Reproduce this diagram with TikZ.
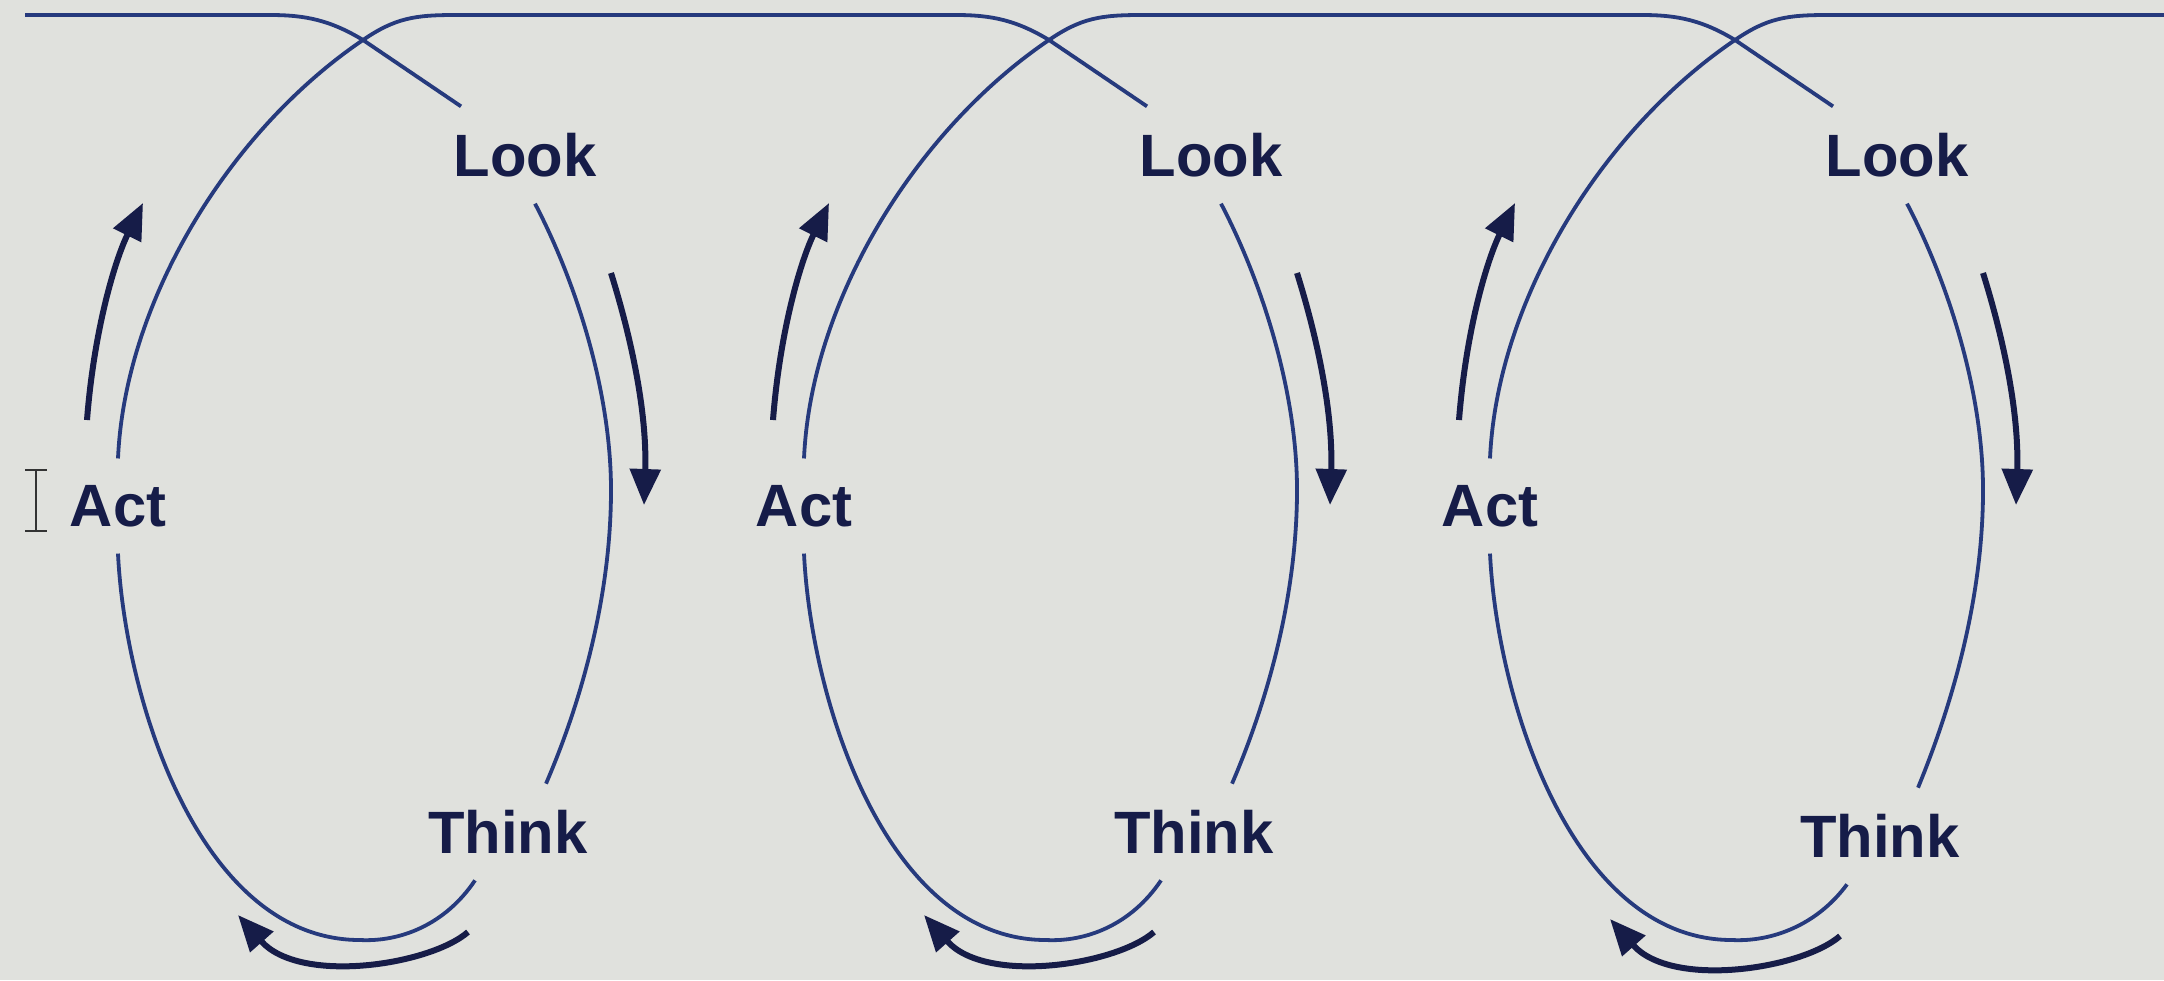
\documentclass[tikz,border=0pt]{standalone}
\usepackage{fontspec}
\setmainfont{Liberation Sans}
\usepackage{tikz}
\usetikzlibrary{arrows.meta}
\definecolor{screen}{RGB}{224,225,221}
\definecolor{ink}{RGB}{22,28,72}
\definecolor{pen}{RGB}{38,58,125}
\tikzstyle{word}=[inner sep=2.6mm,text=ink,font=\fontsize{17}{20}\selectfont\bfseries]
\tikzstyle{loopline}=[draw=pen,line width=0.38mm]
\tikzstyle{flow}=[draw=ink,line width=0.6mm,->]

\begin{document}
\begin{tikzpicture}[>={Triangle[length=3.6mm,width=3mm]},line join=bevel,x=0.1mm,y=-0.1mm]
	  \fill [screen] (0,0) rectangle (2164,980);
	  \useasboundingbox (0,0) rectangle (2164,980);
	  \node (L1) at (525,155) [word] {Look};
	  \node (T1) at (508,832) [word] {Think};
	  \node (A1) at (118,506) [word] {Act};
	  \node (L2) at (1211,155) [word] {Look};
	  \node (T2) at (1194,832) [word] {Think};
	  \node (A2) at (804,506) [word] {Act};
	  \node (L3) at (1897,155) [word] {Look};
	  \node (T3) at (1880,836) [word] {Think};
	  \node (A3) at (1490,506) [word] {Act};
	  \coordinate (S) at (25,15);
	  \coordinate (E) at (2164,15);
	  % spiral
	  \draw [loopline] (S) -- (270,15) .. controls (305,15) and (330,20) .. (363,40) -- ([xshift=-6.4mm]L1.north);
	  \draw [loopline] ([xshift=1mm]L1.south) .. controls (575,280) and (611,390) .. (611,490) .. controls (611,595) and (582,700) .. ([xshift=3.8mm]T1.north);
	  \draw [loopline] ([xshift=-3.3mm]T1.south) .. controls (445,925) and (400,942) .. (360,940) .. controls (200,940) and (125,700) .. (A1.south);
	  \draw [loopline] (A1.north) .. controls (125,300) and (230,130) .. (363,40) .. controls (395,18) and (415,15) .. (455,15) -- (956,15) .. controls (991,15) and (1016,20) .. (1049,40) -- ([xshift=-6.4mm]L2.north);
	  \draw [loopline] ([xshift=1mm]L2.south) .. controls (1261,280) and (1297,390) .. (1297,490) .. controls (1297,595) and (1268,700) .. ([xshift=3.8mm]T2.north);
	  \draw [loopline] ([xshift=-3.3mm]T2.south) .. controls (1131,925) and (1086,942) .. (1046,940) .. controls (886,940) and (811,700) .. (A2.south);
	  \draw [loopline] (A2.north) .. controls (811,300) and (916,130) .. (1049,40) .. controls (1081,18) and (1101,15) .. (1141,15) -- (1642,15) .. controls (1677,15) and (1702,20) .. (1735,40) -- ([xshift=-6.4mm]L3.north);
	  \draw [loopline] ([xshift=1mm]L3.south) .. controls (1947,280) and (1983,390) .. (1983,490) .. controls (1983,595) and (1954,700) .. ([xshift=3.8mm]T3.north);
	  \draw [loopline] ([xshift=-3.3mm]T3.south) .. controls (1817,925) and (1772,942) .. (1732,940) .. controls (1572,940) and (1497,700) .. (A3.south);
	  \draw [loopline] (A3.north) .. controls (1497,300) and (1602,130) .. (1735,40) .. controls (1767,18) and (1787,15) .. (1827,15) -- (E);
	  % direction arrows
	  \draw [flow] (87,420) .. controls (94,330) and (115,260) .. (143,203);
	  \draw [flow] (611,273) .. controls (635,350) and (647,420) .. (644,505);
	  \draw [flow] (468,932) .. controls (430,965) and (300,985) .. (238,915);
	  \draw [flow] (773,420) .. controls (780,330) and (801,260) .. (829,203);
	  \draw [flow] (1297,273) .. controls (1321,350) and (1333,420) .. (1330,505);
	  \draw [flow] (1154,932) .. controls (1116,965) and (986,985) .. (924,915);
	  \draw [flow] (1459,420) .. controls (1466,330) and (1487,260) .. (1515,203);
	  \draw [flow] (1983,273) .. controls (2007,350) and (2019,420) .. (2016,505);
	  \draw [flow] (1840,936) .. controls (1802,969) and (1672,989) .. (1610,919);
	  % text cursor
	  \draw [black!80,line width=0.2mm] (25,470) -- (47,470) (36,470) -- (36,531) (25,531) -- (47,531);
    %
\end{tikzpicture}
\end{document}
